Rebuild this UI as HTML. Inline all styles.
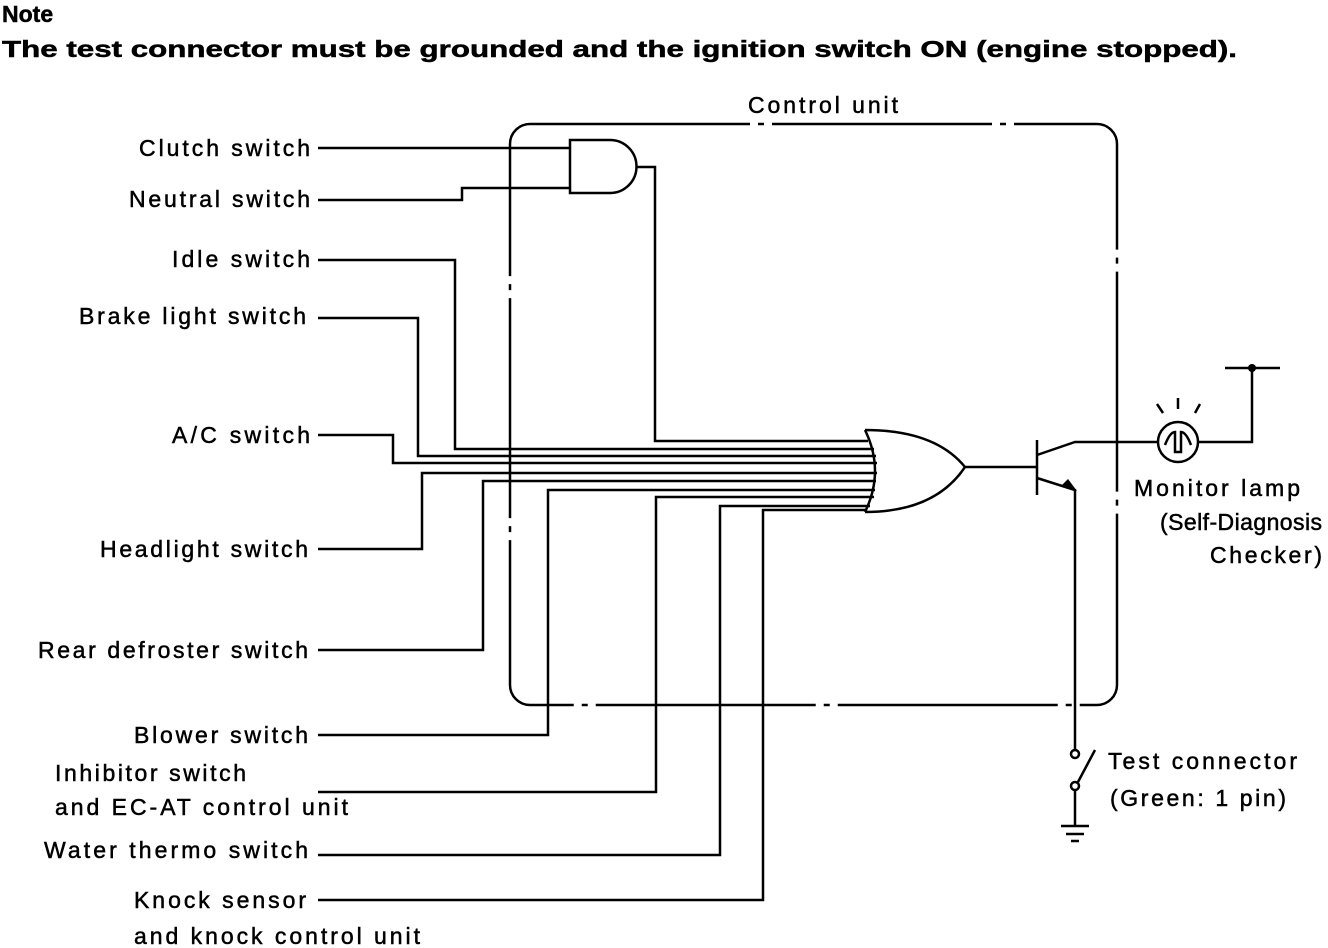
<!DOCTYPE html>
<html><head><style>
body{margin:0;background:#fff}
svg{display:block}
text{font-family:"Liberation Sans",sans-serif;font-size:23px;fill:#000;stroke:#000;stroke-width:0.5}
</style></head><body>
<svg width="1328" height="948" viewBox="0 0 1328 948">
<text x="2" y="22" font-weight="bold" font-size="23">Note</text>
<text x="2" y="57" font-weight="bold" font-size="24" textLength="1235" lengthAdjust="spacingAndGlyphs">The test connector must be grounded and the ignition switch ON (engine stopped).</text>
<text x="748" y="113" textLength="150">Control unit</text>
<g stroke="#000" stroke-width="2.5" fill="none">
<rect x="510" y="124" width="607" height="581" rx="20" stroke-dasharray="220,8,6,8"/>
<path d="M570 140 H610 A26 26 0 0 1 610 193 H570 Z"/>
<path d="M318 148 H570 M318 200 H462 V188 H570 M636 167 H655 V441 H868"/>
<path d="M318 260 H455 V449 H874 M318 318 H418 V456 H876 M318 435 H393 V463 H877 M318 549 H422 V473 H877 M318 650 H483 V481 H876 M318 735 H548 V490 H875 M318 792 H656 V497 H874 M318 855 H720 V506 H870 M318 900 H763 V510 H866"/>
<path d="M865 430 Q885 471 865 512 M865 430 Q935 430 965 467 Q935 512 865 512"/>
<path d="M965 467 H1037 M1037 440 V495 M1037 455 L1075 442 H1158 M1037 478 L1075 490 V750"/>
<circle cx="1178" cy="442" r="20"/>
<path d="M1165 445 Q1170 432 1175 432 V452 H1181 V432 Q1186 432 1191 445"/>
<path d="M1198 442 H1252 V368 M1225 368 H1280"/>
<path d="M1157 404 L1163 413 M1178 398 V409 M1200 404 L1195 413"/>
<circle cx="1075" cy="754" r="4"/>
<circle cx="1075" cy="786" r="4"/>
<path d="M1078 782 L1095 750 M1075 790 V826 M1061 826 H1089 M1066 834 H1084 M1071 841 H1079"/>
</g>
<path d="M1062 485 L1077 491 L1068 479 Z" fill="#000"/>
<circle cx="1252" cy="368" r="4" fill="#000"/>
<text x="139" y="156" textLength="171">Clutch switch</text>
<text x="129" y="207" textLength="181">Neutral switch</text>
<text x="172" y="267" textLength="138">Idle switch</text>
<text x="79" y="324" textLength="227">Brake light switch</text>
<text x="172" y="443" textLength="138">A/C switch</text>
<text x="100" y="557" textLength="208">Headlight switch</text>
<text x="38" y="658" textLength="270">Rear defroster switch</text>
<text x="134" y="743" textLength="174">Blower switch</text>
<text x="44" y="858" textLength="264">Water thermo switch</text>
<text x="55" y="781" textLength="191">Inhibitor switch</text>
<text x="55" y="815" textLength="293">and EC-AT control unit</text>
<text x="134" y="908" textLength="172">Knock sensor</text>
<text x="134" y="944" textLength="286">and knock control unit</text>
<text x="1134" y="496" textLength="166">Monitor lamp</text>
<text x="1160" y="530" textLength="162">(Self-Diagnosis</text>
<text x="1210" y="563" textLength="112">Checker)</text>
<text x="1108" y="769" textLength="189">Test connector</text>
<text x="1110" y="806" textLength="176">(Green: 1 pin)</text>
</svg>
</body></html>
